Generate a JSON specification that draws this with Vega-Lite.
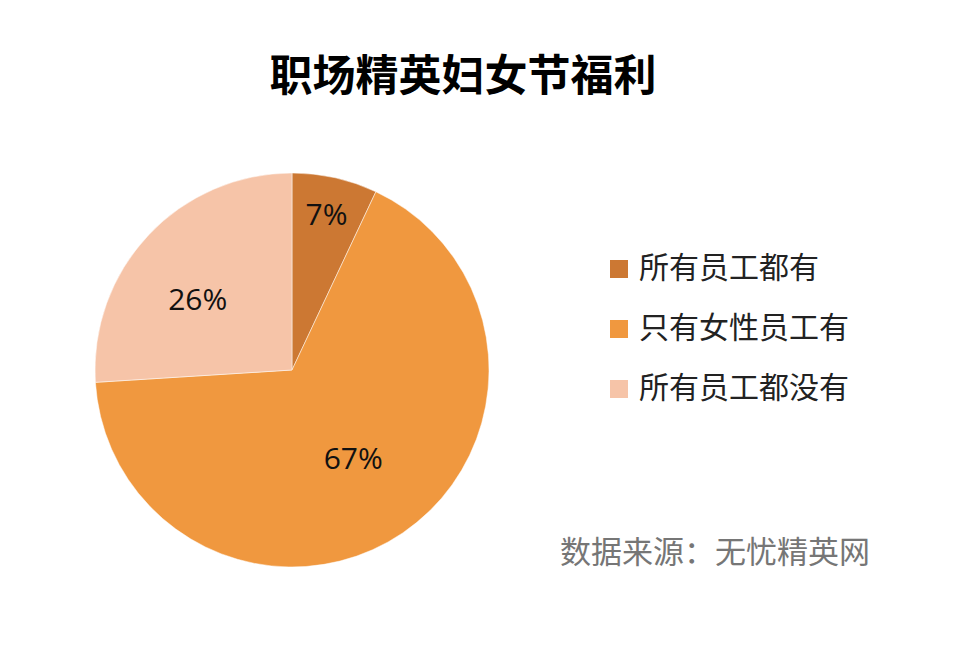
{
  "$schema": "https://vega.github.io/schema/vega-lite/v6.json",
  "autosize": {"type": "none"},
  "width": 394,
  "height": 394,
  "padding": {"left": 95, "top": 173, "right": 470, "bottom": 99},
  "background": "white",
  "config": {"view": {"stroke": null}, "font": "Noto Sans CJK SC"},
  "title": {
    "text": "职场精英妇女节福利",
    "fontSize": 43,
    "fontWeight": "bold",
    "font": "Noto Sans CJK SC",
    "color": "#000000",
    "anchor": "middle",
    "dx": 171,
    "offset": 72
  },
  "data": {
    "values": [
      {"category": "所有员工都有", "value": 7, "label": "7%", "rank": 1},
      {"category": "只有女性员工有", "value": 67, "label": "67%", "rank": 2},
      {"category": "所有员工都没有", "value": 26, "label": "26%", "rank": 3}
    ]
  },
  "encoding": {
    "theta": {"field": "value", "type": "quantitative", "stack": true},
    "order": {"field": "rank", "type": "quantitative"}
  },
  "layer": [
    {
      "mark": {"type": "arc", "outerRadius": 197, "stroke": "white", "strokeWidth": 0.5},
      "encoding": {
        "color": {
          "field": "category",
          "type": "nominal",
          "sort": ["所有员工都有", "只有女性员工有", "所有员工都没有"],
          "scale": {
            "domain": ["所有员工都有", "只有女性员工有", "所有员工都没有"],
            "range": ["#CC7833", "#F0983F", "#F6C4A8"]
          },
          "legend": {
            "orient": "none",
            "legendX": 465,
            "legendY": 81,
            "title": "数据来源：无忧精英网",
            "titleOrient": "bottom",
            "titleFontSize": 31,
            "titleFontWeight": "normal",
            "titleColor": "#767676",
            "titleFont": "Noto Sans CJK SC",
            "titlePadding": 135,
            "titleLimit": 500,
            "symbolType": "square",
            "symbolSize": 324,
            "symbolStrokeWidth": 0,
            "symbolOffset": 44,
            "labelFontSize": 30,
            "labelFont": "Noto Sans CJK SC",
            "labelColor": "#222222",
            "labelOffset": 5,
            "labelLimit": 400,
            "rowPadding": 30
          }
        }
      }
    },
    {
      "mark": {"type": "text", "fontSize": 30, "font": "Open Sans", "color": "#111111", "radius": 158},
      "encoding": {
        "text": {"condition": {"test": "datum.rank === 1", "field": "label"}, "value": ""},
        "detail": {"field": "category"}
      }
    },
    {
      "mark": {"type": "text", "fontSize": 30, "font": "Open Sans", "color": "#111111", "radius": 109},
      "encoding": {
        "text": {"condition": {"test": "datum.rank === 2", "field": "label"}, "value": ""},
        "detail": {"field": "category"}
      }
    },
    {
      "mark": {"type": "text", "fontSize": 30, "font": "Open Sans", "color": "#111111", "radius": 117, "dx": -9, "dy": 11},
      "encoding": {
        "text": {"condition": {"test": "datum.rank === 3", "field": "label"}, "value": ""},
        "detail": {"field": "category"}
      }
    }
  ]
}
